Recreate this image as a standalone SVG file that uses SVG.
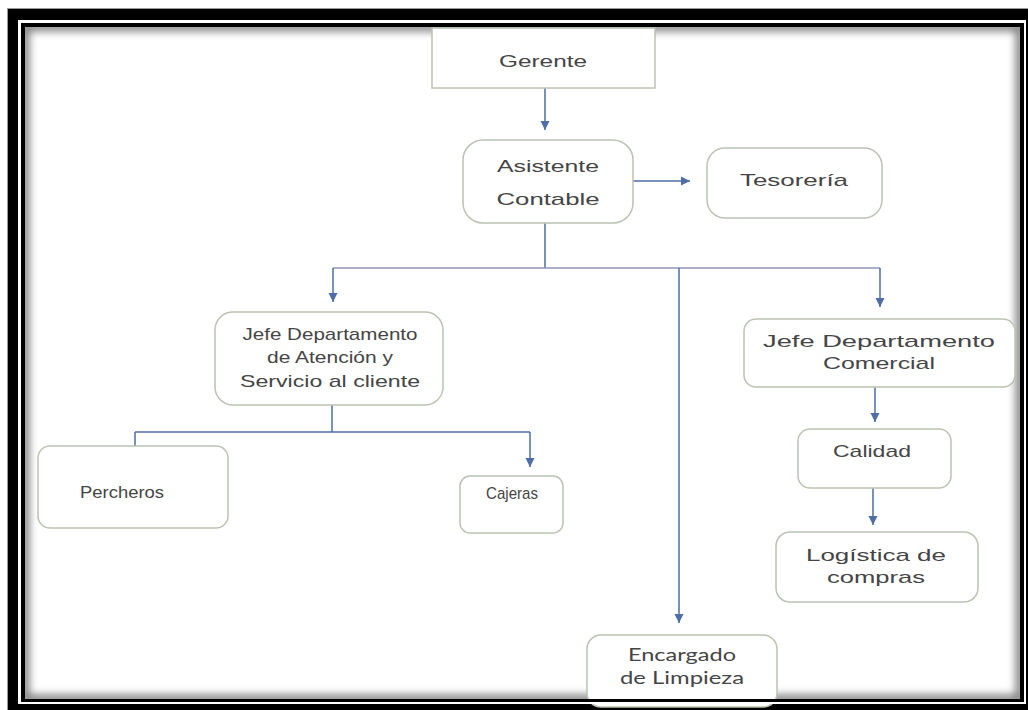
<svg xmlns="http://www.w3.org/2000/svg" width="1028" height="710" viewBox="0 0 1028 710">
  <style>
    .box { fill: #ffffff; stroke: #bcc2b4; stroke-width: 1.5; }
    .t { font-family: "Liberation Sans", Arial, sans-serif; font-size: 17px; fill: #454545; text-anchor: middle; }
    .tc { font-family: Lato, "Open Sans", sans-serif; font-size: 17px; fill: #454545; text-anchor: middle; }
    .c { fill: none; stroke: #4d6ea6; stroke-width: 1.5; }
    .cl { fill: none; stroke: #8e96b4; stroke-width: 1.5; }
  </style>
  <defs>
    <marker id="ah" markerUnits="userSpaceOnUse" markerWidth="10" markerHeight="10" refX="9" refY="5" orient="auto">
      <path d="M0,0.5 L9,5 L0,9.5 z" fill="#4d6ea6"/>
    </marker>
    <clipPath id="inner">
      <rect x="25" y="27" width="995" height="672"/>
    </clipPath>
    <filter id="blur" x="-5%" y="-5%" width="110%" height="110%">
      <feGaussianBlur stdDeviation="4"/>
    </filter>
  </defs>

  <!-- frame -->
  <rect x="0" y="0" width="1028" height="710" fill="#ffffff"/>
  <rect x="7.5" y="8.5" width="1021" height="702" fill="#000000" stroke="#9a9a9a" stroke-width="1"/>
  <rect x="18" y="20" width="1008" height="684" fill="#ffffff"/>
  <rect x="21" y="23" width="1003" height="679" fill="#000000"/>
  <rect x="25" y="27" width="995" height="672" fill="#ffffff"/>
  <g clip-path="url(#inner)">
    <rect x="25" y="27" width="995" height="672" fill="none" stroke="#000" stroke-width="8" filter="url(#blur)" opacity="0.55"/>
  </g>

  <!-- connectors -->
  <g id="connectors">
    <path class="c" d="M545,88 V130" marker-end="url(#ah)"/>
    <path class="c" d="M633,181 H690" marker-end="url(#ah)"/>
    <path class="c" d="M545,223 V268"/>
    <path class="cl" d="M333,268 H880"/>
    <path class="c" d="M333,268 V302" marker-end="url(#ah)"/>
    <path class="c" d="M880,268 V307" marker-end="url(#ah)"/>
    <path class="c" d="M679,268 V623" marker-end="url(#ah)"/>
    <path class="c" d="M332,405 V432"/>
    <path class="c" d="M135,432 H530"/>
    <path class="c" d="M135,432 V459" marker-end="url(#ah)"/>
    <path class="c" d="M530,432 V467" marker-end="url(#ah)"/>
    <path class="c" d="M875,387 V422" marker-end="url(#ah)"/>
    <path class="c" d="M873,488 V525" marker-end="url(#ah)"/>
  </g>

  <g id="gerente">
    <rect class="box" x="432" y="28" width="223" height="60"/>
    <text class="t" x="543" y="67" textLength="88" lengthAdjust="spacingAndGlyphs">Gerente</text>
  </g>
  <g id="asistente">
    <rect class="box" x="463" y="140" width="170" height="83" rx="20"/>
    <text class="t" x="548" y="172" textLength="102" lengthAdjust="spacingAndGlyphs">Asistente</text>
    <text class="t" x="548" y="205" textLength="103" lengthAdjust="spacingAndGlyphs">Contable</text>
  </g>
  <g id="tesoreria">
    <rect class="box" x="707" y="148" width="175" height="70" rx="18"/>
    <text class="t" x="794" y="186" textLength="108" lengthAdjust="spacingAndGlyphs">Tesorería</text>
  </g>
  <g id="jefe-atencion">
    <rect class="box" x="215" y="312" width="228" height="93" rx="18"/>
    <text class="t" x="330" y="340" textLength="175" lengthAdjust="spacingAndGlyphs">Jefe Departamento</text>
    <text class="t" x="330" y="363" textLength="126" lengthAdjust="spacingAndGlyphs">de Atención y</text>
    <text class="t" x="330" y="387" textLength="180" lengthAdjust="spacingAndGlyphs">Servicio al cliente</text>
  </g>
  <g id="percheros">
    <rect class="box" x="38" y="446" width="190" height="82" rx="12"/>
    <text class="t" x="122" y="498" font-size="15" textLength="84" lengthAdjust="spacingAndGlyphs">Percheros</text>
  </g>
  <g id="cajeras">
    <rect class="box" x="460" y="476" width="103" height="57" rx="10"/>
    <text class="t" x="512" y="499" font-size="15" textLength="52" lengthAdjust="spacingAndGlyphs">Cajeras</text>
  </g>
  <g id="jefe-comercial">
    <rect class="box" x="744" y="319" width="271" height="68" rx="12"/>
    <text class="t" x="879" y="347" font-size="18" textLength="232" lengthAdjust="spacingAndGlyphs">Jefe Departamento</text>
    <text class="t" x="879" y="369" font-size="18" textLength="112" lengthAdjust="spacingAndGlyphs">Comercial</text>
  </g>
  <g id="calidad">
    <rect class="box" x="798" y="429" width="153" height="59" rx="12"/>
    <text class="t" x="872" y="457" textLength="78" lengthAdjust="spacingAndGlyphs">Calidad</text>
  </g>
  <g id="logistica">
    <rect class="box" x="776" y="532" width="202" height="70" rx="14"/>
    <text class="t" x="876" y="561" textLength="140" lengthAdjust="spacingAndGlyphs">Logística de</text>
    <text class="t" x="876" y="583" textLength="98" lengthAdjust="spacingAndGlyphs">compras</text>
  </g>
  <g id="encargado">
    <rect class="box" x="587" y="635" width="190" height="72" rx="14"/>
    <text class="tc" x="682" y="661" textLength="108" lengthAdjust="spacingAndGlyphs">Encargado</text>
    <text class="tc" x="682" y="684" textLength="124" lengthAdjust="spacingAndGlyphs">de Limpieza</text>
  </g>

  <!-- redraw inner frame bottom edge over Encargado box -->
  <rect x="21" y="699" width="1003" height="3" fill="#000000"/>
  <rect x="18" y="702" width="1008" height="2" fill="#ffffff"/>
</svg>
